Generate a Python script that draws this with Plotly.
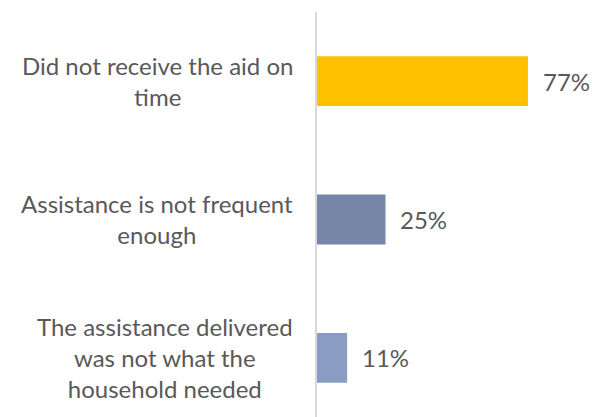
import plotly.graph_objects as go

categories = [
    "Did not receive the aid on<br>time",
    "Assistance is not frequent<br>enough",
    "The assistance delivered<br>was not what the<br>household needed",
]
values = [77, 25, 11]
value_labels = ["77%", "25%", "11%"]
colors = ["#FFC000", "#7686A8", "#8A9BC4"]

positions = list(range(len(categories)))
text_color = "#595959"
font_family = "Lato, 'Open Sans', sans-serif"

fig = go.Figure()
fig.add_trace(go.Bar(
    x=values,
    y=positions,
    orientation="h",
    marker=dict(color=colors, line=dict(width=0)),
    width=0.36,
    hoverinfo="skip",
))

annotations = []
for p, cat in zip(positions, categories):
    annotations.append(dict(
        x=-0.079, xref="paper", y=p, yref="y",
        text=cat, showarrow=False, xanchor="right", yanchor="middle",
        align="center", font=dict(family=font_family, size=24, color=text_color),
    ))
for p, v, lab in zip(positions, values, value_labels):
    annotations.append(dict(
        x=v, xref="x", y=p, yref="y",
        text=lab, showarrow=False, xanchor="left", yanchor="middle",
        xshift=13, font=dict(family=font_family, size=24, color=text_color),
    ))

fig.update_layout(
    width=600, height=417,
    margin=dict(l=317, r=0, t=12, b=0),
    paper_bgcolor="white", plot_bgcolor="white",
    showlegend=False,
    xaxis=dict(range=[0, 103.3], visible=False, showgrid=False, zeroline=False),
    yaxis=dict(range=[2.428, -0.5], showticklabels=False, showgrid=False,
               zeroline=False, showline=True, linecolor="#D9D9D9", linewidth=2,
               ticks=""),
    annotations=annotations,
)

fig.write_html("out.html")
